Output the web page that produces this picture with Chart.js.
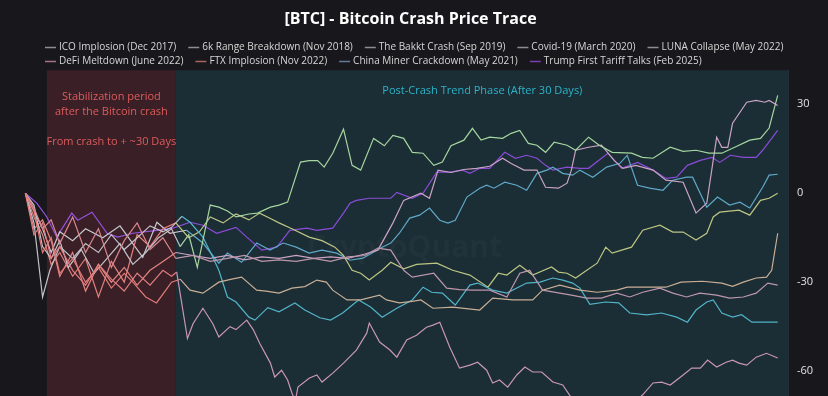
<!DOCTYPE html>
<html>
<head>
<meta charset="utf-8">
<script src="https://cdn.jsdelivr.net/npm/chart.js@4"></script>
<style>
  html, body { margin: 0; padding: 0; background: #18181c; }
  #wrap { width: 828px; height: 396px; }
</style>
</head>
<body>
<div id="wrap"><canvas id="chart" width="828" height="396"></canvas></div>
<script>
// Series: [day since crash, % change]
const icoImplosion = [[-5,0],[-3,-14],[-1,-10],[1,-22],[3,-18],[6,-26],[9,-31],[12,-24],[15,-29],[18,-33],[21,-27],[24,-31],[27,-26],[29,-28],[30.2,-26.6],[32.7,-49],[34,-44],[36.3,-38.8],[38.6,-44],[40,-48.5],[42.6,-45],[44,-46],[46.5,-42.8],[48,-46],[49.5,-50.6],[52,-57.3],[53,-62],[54.6,-59.7],[56,-63],[57,-67.4],[57.8,-70],[58.4,-65.4],[61,-62.4],[62.8,-61.3],[64,-63.7],[66.5,-60.7],[69,-57.3],[72,-52.9],[74.4,-47.2],[75,-43.8],[77.4,-50.2],[79.8,-52.9],[81.4,-55.3],[83.7,-49.5],[86,-47.9],[88.3,-45.2],[89.8,-44.5],[91.4,-43.5],[93.7,-51.9],[96,-59],[98.4,-58],[100.2,-57],[102.3,-59.7],[103.7,-64],[105.3,-63],[107.2,-65.4],[109.3,-61.3],[111.2,-58.6],[113,-60.3],[115.1,-60.3],[117.7,-63.7],[120,-64.7],[122,-69],[126,-73],[130,-75],[134,-72],[137,-70],[138.6,-68],[141,-64],[143,-63.7],[145,-64.7],[148,-61.3],[150,-59],[152,-59],[153.7,-56.3],[155.8,-58.6],[158,-57],[159.5,-56.3],[161,-57.3],[162.8,-58],[165,-55.3],[167.4,-54],[170,-55.6]];
const rangeBreakdown6k = [[-5,0],[-3,-6],[-1,-20],[1,-15],[3,-27],[6,-22],[9,-30],[12,-25],[15,-32],[18,-27],[20,-30],[23,-35],[25.5,-37],[27.5,-33],[29,-30],[31,-29],[33.3,-32.7],[36.3,-33.7],[40,-30],[43,-29],[45.3,-28.3],[48.8,-32.7],[51,-33],[54,-33.7],[57,-32],[60,-31.5],[62.8,-29.3],[65,-30],[66.5,-32.7],[69.8,-36],[73,-36],[77.4,-34.4],[79,-36],[82,-37],[85,-36.5],[87,-36],[89.8,-38.8],[94.4,-38.4],[100.7,-39.4],[103.7,-35.4],[108.4,-36],[113,-36],[115.3,-32.7],[119.3,-31],[124,-32.7],[128,-33.4],[132.6,-32.7],[135,-31.7],[139.5,-31.7],[144,-31.7],[147.5,-30],[152.5,-29.7],[157,-30.3],[159.5,-31.4],[162,-30],[165,-28.6],[167.4,-28.3],[168.6,-26],[170,-13.5]];
const bakktCrash = [[-5,0],[-3,-5],[-1,-12],[1,-9],[3,-17],[6,-8],[9,-20],[12,-12],[15,-25],[18,-16],[21,-10],[24,-19],[27,-15],[30,-22],[34,-21],[38,-23],[42,-22],[46,-21],[50,-23],[54,-22.5],[58,-23],[62,-22],[66,-23],[70,-21.5],[74,-21],[77,-18.5],[80,-19.2],[83,-26],[85,-28.3],[90,-27],[93,-32],[96,-32.5],[99,-32.7],[103,-32.7],[107,-35],[110,-27],[112.3,-26],[115.3,-32.7],[119.3,-33.7],[122,-34.4],[125.6,-35.4],[129,-35.4],[132.6,-33.7],[135.6,-35],[138.6,-33.4],[142.6,-32],[145.6,-33.7],[148.8,-35],[151.9,-33.7],[155.8,-34.4],[158.8,-35.4],[162,-35],[165,-33.7],[167.7,-30.3],[170,-31]];
const covid19 = [[-5,0],[-3,-4],[-1,-18],[1,-22],[3,-16],[5,-25],[8,-19],[11,-27],[14,-22],[17,-17],[20,-24],[23,-20],[26,-15],[29,-12],[31,-18],[33,-14],[35,-25],[38,-4],[40,-4.7],[42,-6],[44,-8],[47,-7],[49,-6.7],[52,-4.7],[54,-4],[56,-3],[59,10.5],[61,11],[63,11],[64.5,8.8],[66.5,13.5],[69,21.6],[71,9.4],[73,7.8],[76,18.5],[78.5,16],[80.5,19.5],[83,18.5],[85,13.8],[87.5,13.5],[90,9.4],[92,10.5],[94,16],[97,17.9],[99,21.9],[101,17.9],[103,18.9],[106,18.5],[108,20.2],[110,21.2],[112,16.8],[114,16.2],[116,13.8],[118,17.2],[121,16.2],[123,14.5],[126,18.9],[128.5,16.2],[131.5,13.8],[136,13.5],[138.5,12.1],[141,11.8],[145,15.5],[148,14.1],[151,14.5],[154,13.5],[157,13.5],[160,15.5],[163.5,17.9],[166,18.5],[168,22],[170,33]];
const lunaCollapse = [[-5,0],[-3,-10],[-1,-35],[0.7,-26],[3,-18],[6,-22],[9,-17],[12,-20],[15,-14],[18,-19],[21,-15],[24,-11],[27,-13],[29,-11.5],[31.4,-7.8],[33.3,-9.8],[36.3,-14.8],[38.6,-21.6],[40,-26],[42,-35],[44,-36.7],[47,-41.8],[48.4,-42.8],[51.4,-38.6],[54,-40],[57.7,-37],[60,-39.4],[63.5,-42],[66,-42.8],[68.8,-40.4],[72.5,-36],[75.3,-38.4],[78,-41.8],[81.4,-38.8],[85,-36],[87.5,-31.7],[89.5,-33.4],[92,-33.7],[95,-37.7],[98.4,-31],[100.2,-30.3],[103.7,-32.7],[107,-33.7],[111.6,-30.3],[114.7,-30],[117.7,-28.6],[120,-29.3],[122.3,-30.3],[124,-32],[126.3,-37.5],[130,-36.7],[133,-37],[135.6,-40.4],[139.5,-41],[143,-40.4],[146.5,-41.8],[149,-43.5],[151,-39.4],[153.5,-36.7],[155,-36],[157,-40.4],[159.5,-41.8],[161.6,-41],[164,-43.5],[167,-43.5],[170,-43.5]];
const defiMeltdown = [[-5,0],[-3,-8],[-1,-14],[1,-24],[3,-20],[6,-28],[9,-22],[12,-35],[15,-23],[18,-30],[21,-14],[24,-18],[27,-12],[30,-10],[33,-15],[35.5,-13],[38,-8],[41,-10],[44,-7],[47,-9],[49.5,-6.7],[52,-8.5],[54,-10],[57,-12],[61,-14.8],[64,-16],[67,-18.2],[69,-21],[71,-26],[73,-27],[75,-29.3],[78,-26],[80,-23.3],[83,-25.5],[86,-24],[90.7,-23.6],[94.4,-26],[98.4,-27.6],[102.6,-31.7],[105,-27],[107,-27.6],[110,-24.3],[113,-27.6],[117.4,-24.9],[119,-26.6],[121,-27],[123,-28.6],[125,-26.6],[128,-23.6],[130,-18.2],[131.5,-20.2],[133.7,-19.2],[136,-18.2],[138.6,-12.5],[142.6,-10.8],[145.6,-13.1],[148,-13.1],[151,-15.8],[153.5,-13.5],[155,-8],[156.5,-6.4],[161,-5.7],[163.5,-7.4],[166,-2.4],[168,-1.7],[170,0]];
const ftxImplosion = [[-5,0],[-3,-12],[-1,-9],[1,-16],[3,-28],[6,-20],[9,-33],[12,-24],[15,-30],[18,-25],[21,-31],[24,-26],[27,-23],[30,-20],[34,-21],[38,-22],[42,-21],[46,-22.5],[50,-21.5],[54,-22],[58,-21],[62,-22],[66,-21.5],[70,-22],[74,-20.5],[77,-19.2],[80.5,-10],[83,-2.4],[87,0],[89,-1.7],[91,7.8],[94,7],[97,8],[100,8.4],[103,9.1],[106,11.8],[108,10],[111,7.8],[114,7.8],[116,2],[119,1.7],[121,3.4],[122,7.8],[123,14.5],[126,15.5],[129,16.2],[132,11],[134,8.4],[137,9.4],[141,7.8],[144,4.4],[148,3.7],[151,-6.7],[153.5,-3.4],[155.8,18.9],[157,15.5],[158.4,15.5],[159.5,23.6],[162.8,30.7],[165,31.3],[167,30.7],[168,31.3],[170,29.6]];
const chinaMiner = [[-5,0],[-3,-6],[-1,-12],[1,-20],[3,-13],[6,-16],[9,-12],[13,-15],[17,-11],[20,-17],[22.3,-21.6],[25.6,-9.8],[28.6,-13.5],[32.5,-12.5],[36.3,-16.8],[40,-23.6],[42,-20.2],[45.3,-23.3],[48.8,-16.8],[51.9,-19.2],[55,-16.8],[58,-18.2],[61,-20.2],[64,-19.2],[67.4,-20.2],[70.5,-22.6],[73.5,-21.9],[78,-18.2],[80,-16.8],[82,-13.5],[84.4,-8.4],[86.7,-7.4],[89,-5],[91.4,-9.1],[93.3,-10.1],[95,-9.1],[97.7,-1.3],[100.7,1.7],[102.3,2.7],[104,1.7],[106.5,3.7],[109.3,2.7],[111.6,1],[114,6.7],[116.3,7.8],[117.7,8.8],[120,6.7],[122.3,6.1],[124,7.8],[127,5.4],[130.2,8.8],[133.3,10.1],[135,12.8],[137.4,2.7],[140.2,1.7],[143.3,1],[145.6,4.4],[148.8,5.4],[150.2,5.4],[153.5,-4.7],[156,-1.3],[158.8,-4],[161.2,-3],[163.5,-5],[166.5,2],[168,6.1],[170,6.4]];
const trumpTariff = [[-5,0],[-2.3,-3.4],[0,-8],[2.3,-14.8],[5.8,-6.7],[7.2,-9.1],[10.5,-6.4],[14,-13.5],[16.5,-14.8],[20,-13.5],[25.6,-12.5],[29.3,-11.8],[33.3,-9.8],[36.3,-10.8],[39.5,-13.5],[44,-11.5],[46.5,-14.8],[50,-19.2],[53.5,-18.2],[56.5,-12.5],[60.5,-11.8],[62.8,-12.5],[66.5,-11.8],[69,-6.7],[70.5,-3.4],[72,-2.4],[75,-1.7],[80,-1.7],[81.4,0.3],[85,-1.7],[87.5,0],[90.7,7.1],[93.7,7.1],[96.7,7.8],[98.4,6.7],[100.7,8.4],[103,8.4],[106.5,13.8],[109,11.8],[111.6,12.8],[114,11.8],[116,9.4],[117.7,7.8],[121,8.8],[124,8.4],[126,8.4],[130.5,13.5],[133.7,8.4],[137.4,10.4],[141,7.8],[144,5],[146.5,5.4],[149,9.4],[152,11.1],[154.7,12.1],[156.5,10.4],[159,12.8],[162,12.1],[165,12.1],[166.5,14.5],[170,21.2]];

const seriesNames = [
    'ICO Implosion (Dec 2017)', '6k Range Breakdown (Nov 2018)', 'The Bakkt Crash (Sep 2019)',
    'Covid-19 (March 2020)', 'LUNA Collapse (May 2022)', 'DeFi Meltdown (June 2022)',
    'FTX Implosion (Nov 2022)', 'China Miner Crackdown (May 2021)', 'Trump First Tariff Talks (Feb 2025)',
];
const seriesData = [icoImplosion, rangeBreakdown6k, bakktCrash, covid19, lunaCollapse, defiMeltdown, ftxImplosion, chinaMiner, trumpTariff];

// colour inside the stabilization window / after it / legend swatch
const earlyColors = ['#e07b7f', '#e07a78', '#d9868f', '#c4c4ca', '#c0c0c8', '#e2807c', '#e3837f', '#c8c8cf', '#9652e0'];
const lateColors = ['#c997b5', '#c9ae96', '#bd97ac', '#a6d6a0', '#52b4c9', '#bcc683', '#cba4c4', '#5fa9c8', '#8a4cd8'];
const legendColors = ['#8e8e92', '#8e8e92', '#8e8e92', '#8e8e92', '#8e8e92', '#a8707c', '#a86460', '#64789c', '#7a3fae'];

const yTicks = [-60, -30, 0, 30];
const phaseBounds = [0, 30];
const stabilizationNote = ['Stabilization period', 'after the Bitcoin crash', '', 'From crash to + ~30 Days'];
const trendNote = 'Post-Crash Trend Phase (After 30 Days)';

const FONT = '"Open Sans", "Noto Sans", sans-serif';

// shaded phases, notes and watermark behind the lines
const phasePlugin = {
    id: 'phases',
    beforeDatasetsDraw(chart) {
        const { ctx, chartArea, scales } = chart;
        const x0 = scales.x.getPixelForValue(phaseBounds[0]);
        const x1 = scales.x.getPixelForValue(phaseBounds[1]);
        const h = chartArea.bottom - chartArea.top;
        ctx.save();
        ctx.fillStyle = '#3a1f26';
        ctx.fillRect(x0, chartArea.top, x1 - x0, h);
        ctx.fillStyle = '#1b2d35';
        ctx.fillRect(x1, chartArea.top, chartArea.right - x1, h);

        ctx.font = `bold 30px ${FONT}`;
        ctx.fillStyle = 'rgba(255,255,255,0.028)';
        ctx.textAlign = 'right';
        ctx.textBaseline = 'middle';
        ctx.fillText('CryptoQuant', 502, 248);

        ctx.font = `11px ${FONT}`;
        ctx.textAlign = 'center';
        ctx.fillStyle = '#dc5c5c';
        stabilizationNote.forEach((line, i) => {
            ctx.fillText(line, (x0 + x1) / 2, chartArea.top + 27 + i * 15);
        });
        ctx.fillStyle = '#2cb4c9';
        ctx.fillText(trendNote, (x1 + chartArea.right) / 2, chartArea.top + 21);
        ctx.restore();
    },
};

// plotly-like horizontal legend, left aligned
const legendPlugin = {
    id: 'lineLegend',
    afterDraw(chart) {
        const ctx = chart.ctx;
        ctx.save();
        ctx.font = `10px ${FONT}`;
        ctx.textBaseline = 'middle';
        ctx.textAlign = 'left';
        const left = 45, maxRight = 800;
        let x = left, y = 47;
        seriesNames.forEach((name, i) => {
            const w = 14 + ctx.measureText(name).width;
            if (x + w > maxRight) { x = left; y += 14; }
            ctx.strokeStyle = legendColors[i];
            ctx.lineWidth = 1.5;
            ctx.beginPath();
            ctx.moveTo(x, y + 0.5);
            ctx.lineTo(x + 11, y + 0.5);
            ctx.stroke();
            ctx.fillStyle = '#d6d6d6';
            ctx.fillText(name, x + 14, y);
            x += w + 12;
        });
        ctx.restore();
    },
};

const datasets = seriesData.map((points, i) => ({
    label: seriesNames[i],
    data: points.map(([x, y]) => ({ x, y })),
    borderColor: lateColors[i],
    borderWidth: 1.2,
    pointRadius: 0,
    tension: 0,
    segment: {
        borderColor: (c) => (c.p0.parsed.x < phaseBounds[1] ? earlyColors[i] : lateColors[i]),
    },
}));

new Chart(document.getElementById('chart'), {
    type: 'line',
    data: { datasets },
    plugins: [phasePlugin, legendPlugin],
    options: {
        responsive: false,
        animation: false,
        layout: { padding: { left: 0, right: 7, top: 0, bottom: 0 } },
        plugins: {
            legend: { display: false },
            tooltip: { enabled: false },
            title: {
                display: true,
                text: '[BTC] - Bitcoin Crash Price Trace',
                color: '#ffffff',
                font: { family: FONT, size: 16, weight: 'bold' },
                padding: { top: 10, bottom: 41 },
            },
        },
        scales: {
            x: { type: 'linear', min: -10.9, max: 172.6, display: false },
            y: {
                position: 'right',
                min: -68.4,
                max: 41.5,
                afterBuildTicks: (axis) => { axis.ticks = yTicks.map((v) => ({ value: v })); },
                afterFit: (axis) => { axis.paddingTop = 0; axis.paddingBottom = 0; },
                grid: { display: false, drawTicks: false },
                border: { display: true, color: 'rgba(255,255,255,0.22)' },
                ticks: { color: '#e2e2e2', padding: 8, font: { family: FONT, size: 11 } },
            },
        },
    },
});
</script>
</body>
</html>
